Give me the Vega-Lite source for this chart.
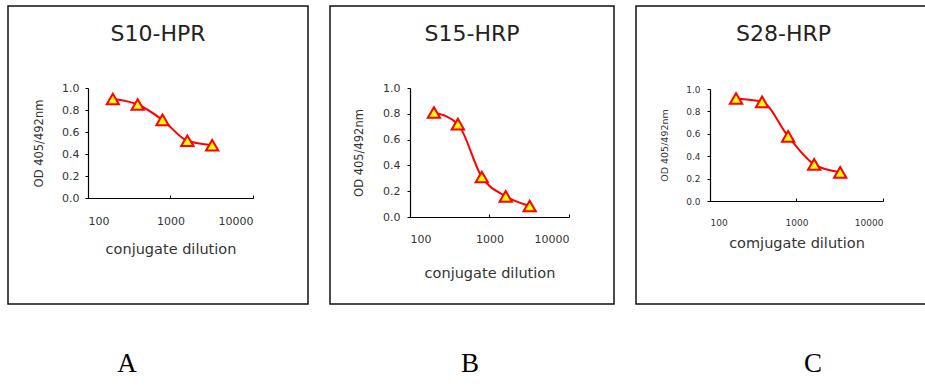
{
  "$schema": "https://vega.github.io/schema/vega-lite/v6.json",
  "padding": {"left": 7, "top": 5, "right": 0, "bottom": 0},
  "background": "white",
  "config": {
    "view": {"stroke": "#111", "strokeWidth": 1.5},
    "axis": {"grid": false, "domainColor": "#000", "tickColor": "#000", "labelColor": "#333", "titleColor": "#333", "labelFont": "DejaVu Sans", "titleFont": "DejaVu Sans", "titleFontWeight": "normal", "domainWidth": 1.2, "tickWidth": 1}
  },
  "datasets": {
    "curves": [
      {"panel": "A", "dilution": 200, "od": 0.90},
      {"panel": "A", "dilution": 400, "od": 0.85},
      {"panel": "A", "dilution": 800, "od": 0.71},
      {"panel": "A", "dilution": 1600, "od": 0.52},
      {"panel": "A", "dilution": 3200, "od": 0.48},
      {"panel": "B", "dilution": 200, "od": 0.81},
      {"panel": "B", "dilution": 400, "od": 0.72},
      {"panel": "B", "dilution": 800, "od": 0.31},
      {"panel": "B", "dilution": 1600, "od": 0.16},
      {"panel": "B", "dilution": 3200, "od": 0.085},
      {"panel": "C", "dilution": 200, "od": 0.915},
      {"panel": "C", "dilution": 400, "od": 0.885},
      {"panel": "C", "dilution": 800, "od": 0.577},
      {"panel": "C", "dilution": 1600, "od": 0.327},
      {"panel": "C", "dilution": 3200, "od": 0.256}
    ],
    "labels": [
      {"col": 1, "lab": "A"},
      {"col": 2, "lab": "B"},
      {"col": 3, "lab": "C"}
    ]
  },
  "spacing": 20,
  "vconcat": [
    {
      "spacing": 20,
      "hconcat": [
        {
          "width": 300, "height": 298,
          "title": {"text": "S10-HPR", "frame": "group", "anchor": "middle", "offset": -50, "baseline": "middle", "fontSize": 22, "font": "DejaVu Sans", "fontWeight": "normal", "color": "#222"},
          "data": {"name": "curves"},
          "transform": [{"filter": "datum.panel == 'A'"}],
          "encoding": {
            "x": {"field": "dilution", "type": "quantitative", "scale": {"type": "log", "domain": [100, 10000], "range": [80, 245]},
                  "axis": {"title": "conjugate dilution", "offset": -106, "values": [100, 1000, 10000], "format": "d", "tickSize": -3, "labelPadding": 20, "titlePadding": 16, "labelFontSize": 11, "titleFontSize": 14.5}},
            "y": {"field": "od", "type": "quantitative", "scale": {"domain": [0, 1], "range": [192, 82]},
                  "axis": {"title": "OD 405/492nm", "offset": -80, "values": [0, 0.2, 0.4, 0.6, 0.8, 1.0], "format": ".1f", "tickSize": 3, "labelPadding": 6, "titlePadding": 17, "labelFontSize": 11, "titleFontSize": 11.5}}
          },
          "layer": [
            {"mark": {"type": "line", "color": "#FF0000", "strokeWidth": 2, "interpolate": "monotone"}},
            {"mark": {"type": "point", "shape": "triangle-up", "filled": true, "fill": "#FFFF00", "stroke": "#FF0000", "strokeWidth": 2, "size": 150, "opacity": 1}}
          ]
        },
        {
          "width": 284, "height": 298,
          "title": {"text": "S15-HRP", "frame": "group", "anchor": "middle", "offset": -50, "baseline": "middle", "fontSize": 22, "font": "DejaVu Sans", "fontWeight": "normal", "color": "#222"},
          "data": {"name": "curves"},
          "transform": [{"filter": "datum.panel == 'B'"}],
          "encoding": {
            "x": {"field": "dilution", "type": "quantitative", "scale": {"type": "log", "domain": [100, 10000], "range": [80, 239]},
                  "axis": {"title": "conjugate dilution", "offset": -87, "values": [100, 1000, 10000], "format": "d", "tickSize": -3, "labelPadding": 19, "titlePadding": 22, "labelFontSize": 11, "titleFontSize": 14.5}},
            "y": {"field": "od", "type": "quantitative", "scale": {"domain": [0, 1], "range": [211, 82]},
                  "axis": {"title": "OD 405/492nm", "offset": -80, "values": [0, 0.2, 0.4, 0.6, 0.8, 1.0], "format": ".1f", "tickSize": 3, "labelPadding": 7, "titlePadding": 18, "labelFontSize": 11, "titleFontSize": 11.5}}
          },
          "layer": [
            {"mark": {"type": "line", "color": "#FF0000", "strokeWidth": 2, "interpolate": "monotone"}},
            {"mark": {"type": "point", "shape": "triangle-up", "filled": true, "fill": "#FFFF00", "stroke": "#FF0000", "strokeWidth": 2, "size": 150, "opacity": 1}}
          ]
        },
        {
          "width": 295, "height": 298,
          "title": {"text": "S28-HRP", "frame": "group", "anchor": "middle", "offset": -50, "baseline": "middle", "fontSize": 22, "font": "DejaVu Sans", "fontWeight": "normal", "color": "#222"},
          "data": {"name": "curves"},
          "transform": [{"filter": "datum.panel == 'C'"}],
          "encoding": {
            "x": {"field": "dilution", "type": "quantitative", "scale": {"type": "log", "domain": [100, 10000], "range": [74, 247]},
                  "axis": {"title": "comjugate dilution", "offset": -103, "values": [100, 1000, 10000], "format": "d", "tickSize": -3, "labelPadding": 20, "titlePadding": 9, "labelFontSize": 9, "titleFontSize": 14.5}},
            "y": {"field": "od", "type": "quantitative", "scale": {"domain": [0, 1], "range": [195, 83]},
                  "axis": {"title": "OD 405/492nm", "offset": -74, "values": [0, 0.2, 0.4, 0.6, 0.8, 1.0], "format": ".1f", "tickSize": 3, "labelPadding": 7, "titlePadding": 16, "labelFontSize": 9, "titleFontSize": 9.5}}
          },
          "layer": [
            {"mark": {"type": "line", "color": "#FF0000", "strokeWidth": 2, "interpolate": "monotone"}},
            {"mark": {"type": "point", "shape": "triangle-up", "filled": true, "fill": "#FFFF00", "stroke": "#FF0000", "strokeWidth": 2, "size": 150, "opacity": 1}}
          ]
        }
      ]
    },
    {
      "spacing": 22,
      "hconcat": [
        {"width": 238, "height": 78, "view": {"stroke": null}, "data": {"name": "labels"}, "transform": [{"filter": "datum.col == 1"}],
         "mark": {"type": "text", "font": "Liberation Serif", "fontSize": 27, "color": "#000", "baseline": "middle", "align": "center"},
         "encoding": {"text": {"field": "lab"}}},
        {"width": 404, "height": 78, "view": {"stroke": null}, "data": {"name": "labels"}, "transform": [{"filter": "datum.col == 2"}],
         "mark": {"type": "text", "font": "Liberation Serif", "fontSize": 27, "color": "#000", "baseline": "middle", "align": "center"},
         "encoding": {"text": {"field": "lab"}}},
        {"width": 238, "height": 78, "view": {"stroke": null}, "data": {"name": "labels"}, "transform": [{"filter": "datum.col == 3"}],
         "mark": {"type": "text", "font": "Liberation Serif", "fontSize": 27, "color": "#000", "baseline": "middle", "align": "center"},
         "encoding": {"text": {"field": "lab"}}}
      ]
    }
  ]
}
